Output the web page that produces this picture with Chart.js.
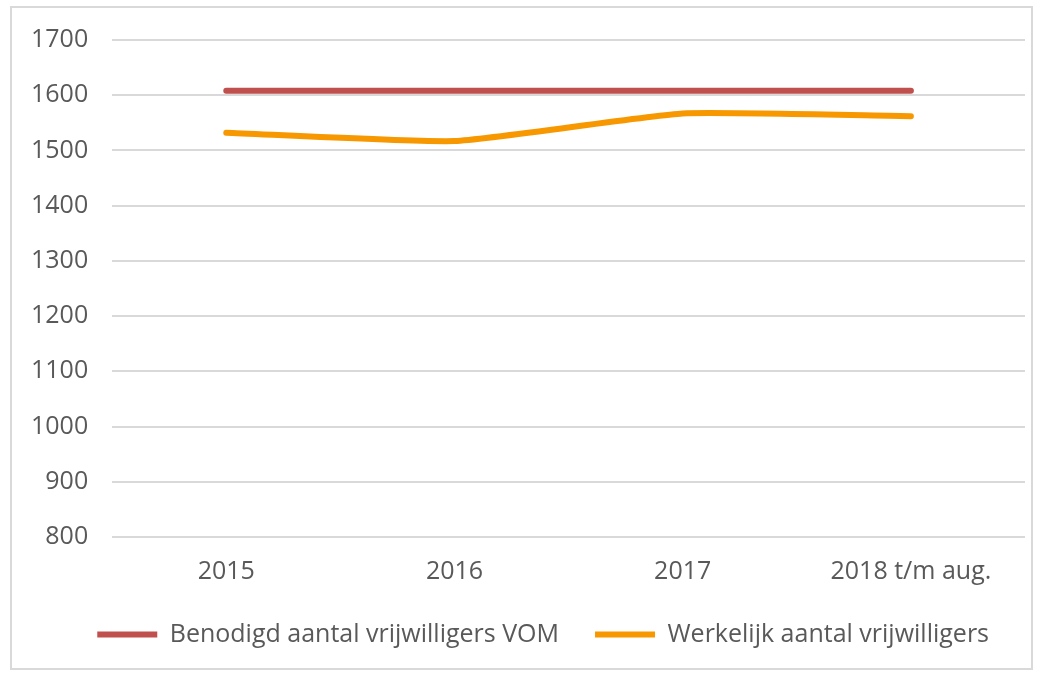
<!DOCTYPE html>
<html>
<head>
<meta charset="utf-8">
<script src="https://cdn.jsdelivr.net/npm/chart.js@4.4.0/dist/chart.umd.min.js"></script>
<style>
  html, body { margin: 0; padding: 0; background: #fff; }
  #frame {
    position: absolute; left: 10px; top: 6px;
    width: 1023px; height: 664px;
    border: 2px solid #d9d9d9; box-sizing: border-box;
  }
  #holder {
    position: absolute; left: 12px; top: 1px;
    width: 1019px; height: 667px;
  }
</style>
</head>
<body>
<div id="frame"></div>
<div id="holder"><canvas id="lineChart"></canvas></div>
<script>
// Data
const categories = ['2015', '2016', '2017', '2018 t/m aug.'];
const benodigd = [1608, 1608, 1608, 1608];
const werkelijk = [1532, 1517, 1567, 1562];
const yTicks = [800, 900, 1000, 1100, 1200, 1300, 1400, 1500, 1600, 1700];

const textFont = "'Open Sans', Roboto, sans-serif";
const textColor = '#595959';

const ctx = document.getElementById('lineChart').getContext('2d');

new Chart(ctx, {
  type: 'line',
  data: {
    labels: categories,
    datasets: [{
      label: 'Benodigd aantal vrijwilligers VOM',
      data: benodigd,
      borderColor: '#c0504d',
      backgroundColor: '#c0504d',
      borderWidth: 6,
      pointRadius: 0,
      borderCapStyle: 'round',
    }, {
      label: 'Werkelijk aantal vrijwilligers',
      data: werkelijk,
      borderColor: '#f79800',
      backgroundColor: '#f79800',
      borderWidth: 6,
      pointRadius: 0,
      borderCapStyle: 'round',
      tension: 0.15,
    }]
  },
  options: {
    responsive: true,
    maintainAspectRatio: false,
    animation: false,
    layout: { padding: { left: -5, right: 6, top: 10, bottom: 11 } },
    plugins: {
      legend: {
        position: 'bottom',
        align: 'end',
        labels: {
          color: textColor,
          font: { family: textFont, size: 25 },
          boxWidth: 60,
          boxHeight: 6,
          padding: 23,
          generateLabels: function (chart) {
            return chart.data.datasets.map(function (ds, i) {
              return {
                // trailing spaces tune item gap and row position
                text: ds.label + '  ',
                fillStyle: ds.borderColor,
                strokeStyle: ds.borderColor,
                lineWidth: 0,
                datasetIndex: i,
                fontColor: textColor,
              };
            });
          }
        }
      },
      tooltip: { enabled: false }
    },
    scales: {
      x: {
        offset: true,
        grid: { display: false },
        border: { display: false },
        ticks: {
          color: textColor,
          font: { family: textFont, size: 25 },
          padding: 12,
          maxRotation: 0,
        }
      },
      y: {
        min: 800,
        max: 1700,
        afterBuildTicks: function (axis) {
          axis.ticks = yTicks.map(function (v) { return { value: v }; });
        },
        grid: { color: '#d9d9d9', lineWidth: 2, drawTicks: false },
        border: { display: false },
        ticks: {
          color: textColor,
          font: { family: textFont, size: 25 },
          padding: 24,
          callback: function (value) { return String(value); }
        }
      }
    }
  }
});
</script>
</body>
</html>
